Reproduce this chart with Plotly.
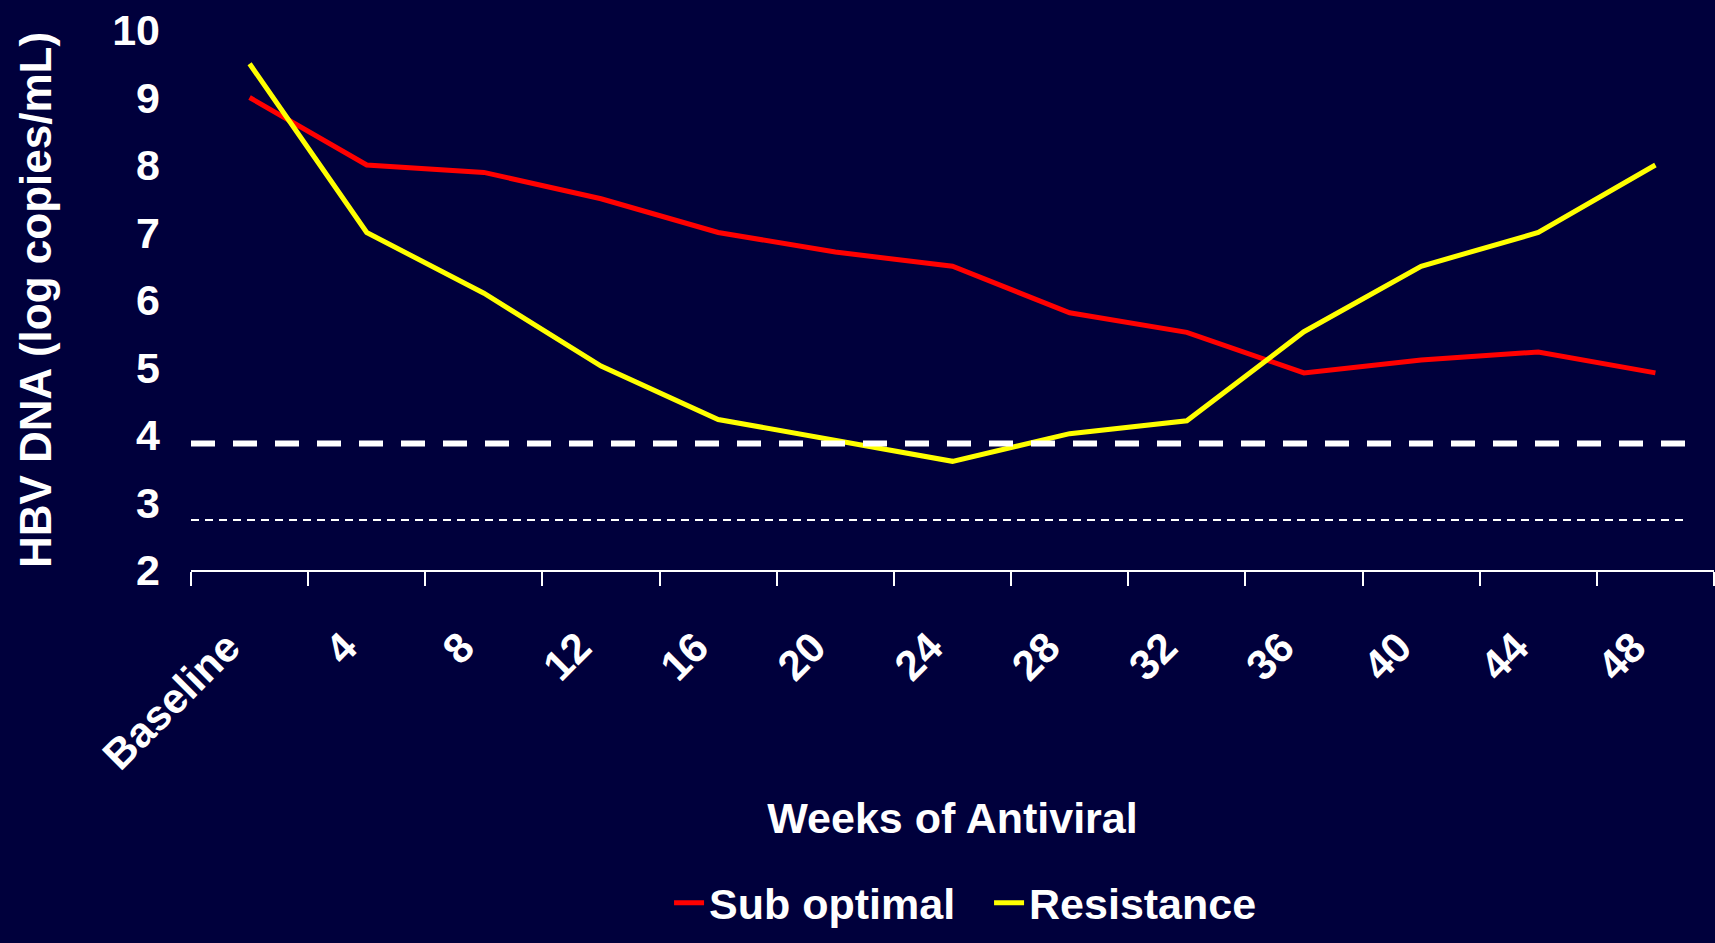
import plotly.graph_objects as go

# weeks of antiviral therapy
weeks = ['Baseline', '4', '8', '12', '16', '20', '24', '28', '32', '36', '40', '44', '48']

# HBV DNA, log copies/mL
sub_optimal = [9.0, 8.0, 7.89, 7.5, 7.0, 6.71, 6.5, 5.81, 5.52, 4.92, 5.11, 5.23, 4.92]
resistance = [9.5, 7.0, 6.1, 5.02, 4.23, 3.92, 3.61, 4.02, 4.21, 5.53, 6.5, 7.0, 8.0]

# reference levels (dashed lines)
upper_level = 3.875
lower_level = 2.74

bg = 'rgb(0,0,60)'
font = 'Liberation Sans'

fig = go.Figure()
fig.add_trace(go.Scatter(x=weeks, y=sub_optimal, name='Sub optimal', mode='lines',
                         line=dict(color='#ff0000', width=5)))
fig.add_trace(go.Scatter(x=weeks, y=resistance, name='Resistance', mode='lines',
                         line=dict(color='#ffff00', width=5)))

fig.add_shape(type='line', xref='paper', yref='y', x0=0, x1=0.982,
              y0=upper_level, y1=upper_level, line=dict(color='white', width=6, dash='24px,18px'))
fig.add_shape(type='line', xref='paper', yref='y', x0=0, x1=0.98,
              y0=lower_level, y1=lower_level, line=dict(color='white', width=2, dash='8px,6px'))

fig.update_layout(
    width=1715, height=943,
    paper_bgcolor=bg, plot_bgcolor=bg,
    margin=dict(l=191, r=1, t=30, b=373),
    font=dict(family=font, color='white', size=40),
    showlegend=True,
    legend=dict(orientation='h', x=0.524, xanchor='center', y=-0.68, yanchor='bottom',
                font=dict(size=43, family=font, weight='bold'), bgcolor='rgba(0,0,0,0)',
                entrywidth=275),
)
fig.update_xaxes(
    type='category', range=[-0.5, len(weeks) - 0.5], showgrid=False, zeroline=False,
    showline=True, linecolor='white', linewidth=1.5,
    ticks='outside', tickson='boundaries', ticklen=14, tickcolor='white', tickwidth=1.5,
    tickangle=-45, tickfont=dict(size=42, weight='bold'), ticklabelstandoff=34,
    ticklabelshift=-22,
    title=dict(text='Weeks of Antiviral', font=dict(size=43, weight='bold'), standoff=25),
)
fig.update_yaxes(
    range=[2, 10], dtick=1, showgrid=False, zeroline=False, showline=False,
    ticks='', tickfont=dict(size=43, weight='bold'), ticklabelstandoff=30,
    title=dict(text='HBV DNA (log copies/mL)', font=dict(size=44, weight='bold'), standoff=46),
)

fig.write_html('out.html', config={'displayModeBar': False}, post_script=(
    "document.body.style.margin='0';"
    "document.body.style.background='" + bg + "';"
))
